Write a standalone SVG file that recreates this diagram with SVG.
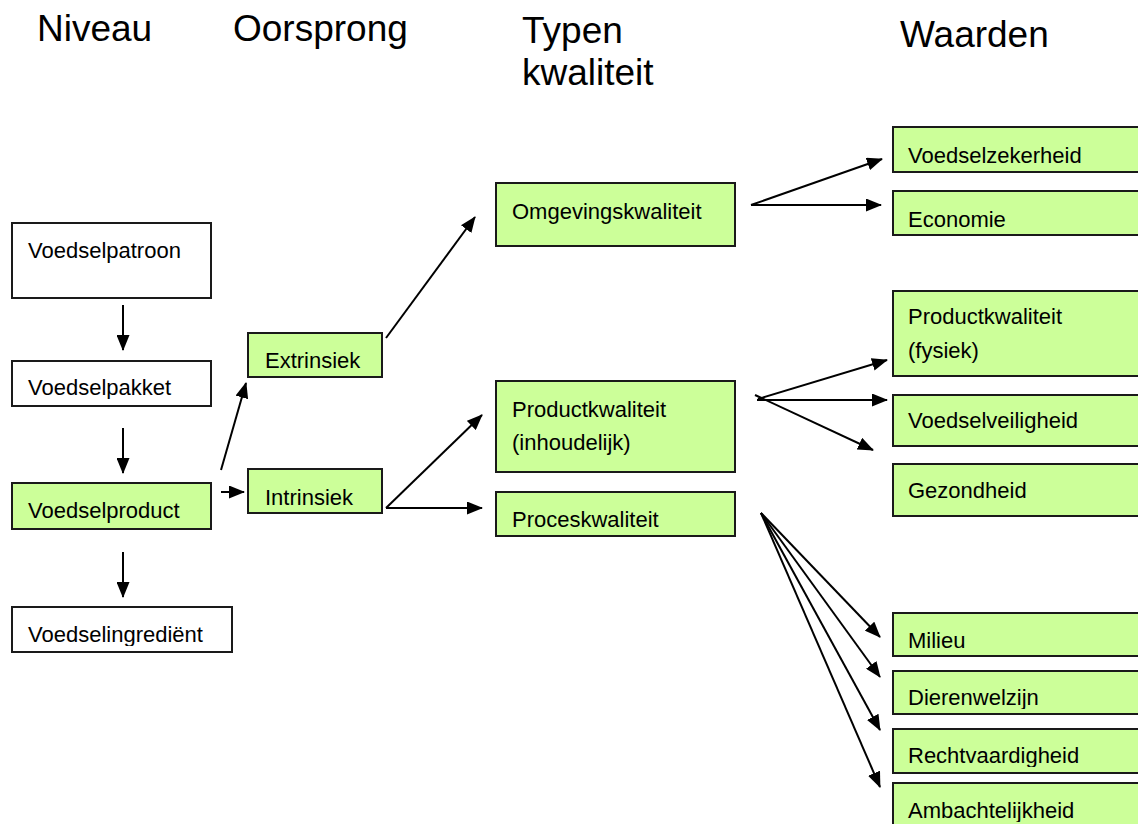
<svg xmlns="http://www.w3.org/2000/svg" width="1138" height="824" viewBox="0 0 1138 824">
<style>
.hdr{font-family:"Liberation Sans",Arial,sans-serif;font-size:37px;fill:#000}
.box{stroke:#1a1a1a;stroke-width:2}
.g{fill:#ccff99}
.w{fill:#ffffff}
.t{font-family:"Liberation Sans",Arial,sans-serif;font-size:22px;fill:#000}
.c line{stroke:#000;stroke-width:2;marker-end:url(#ah)}
</style>
<defs>
<marker id="ah" markerUnits="userSpaceOnUse" markerWidth="16" markerHeight="13" refX="15" refY="6.5" orient="auto">
<path d="M0,0 L16,6.5 L0,13 z" fill="#000"/>
</marker>
<clipPath id="cpPakket"><rect x="12" y="361" width="199" height="38"/></clipPath>
<clipPath id="cpIngr"><rect x="12" y="607" width="220" height="39"/></clipPath>
<clipPath id="cpDier"><rect x="893" y="671" width="260" height="38"/></clipPath>
<clipPath id="cpRecht"><rect x="893" y="729" width="260" height="38"/></clipPath>
<clipPath id="cpAmb"><rect x="893" y="783" width="260" height="39"/></clipPath>
</defs>
<rect width="1138" height="824" fill="#fff"/>
<g id="headers">
<text class="hdr" x="37" y="41">Niveau</text>
<text class="hdr" x="233" y="41">Oorsprong</text>
<text class="hdr" x="522" y="43">Typen</text>
<text class="hdr" x="522" y="85">kwaliteit</text>
<text class="hdr" x="900" y="47">Waarden</text>
</g>
<g id="voedselpatroon"><rect class="box w" x="12" y="223" width="199" height="75"/><text class="t" x="28" y="258">Voedselpatroon</text></g>
<g id="voedselpakket"><rect class="box w" x="12" y="361" width="199" height="45"/><text class="t" x="28" y="395" clip-path="url(#cpPakket)">Voedselpakket</text></g>
<g id="voedselproduct"><rect class="box g" x="12" y="483" width="199" height="46"/><text class="t" x="28" y="518">Voedselproduct</text></g>
<g id="voedselingredient"><rect class="box w" x="12" y="607" width="220" height="45"/><text class="t" x="28" y="642" clip-path="url(#cpIngr)">Voedselingrediënt</text></g>
<g id="extrinsiek"><rect class="box g" x="248" y="333" width="134" height="44"/><text class="t" x="265" y="368">Extrinsiek</text></g>
<g id="intrinsiek"><rect class="box g" x="248" y="469" width="134" height="44"/><text class="t" x="265" y="505">Intrinsiek</text></g>
<g id="omgevingskwaliteit"><rect class="box g" x="496" y="183" width="239" height="63"/><text class="t" x="512" y="219">Omgevingskwaliteit</text></g>
<g id="productkwaliteit-inh"><rect class="box g" x="496" y="381" width="239" height="91"/><text class="t" x="512" y="417">Productkwaliteit</text><text class="t" x="512" y="450">(inhoudelijk)</text></g>
<g id="proceskwaliteit"><rect class="box g" x="496" y="492" width="239" height="44"/><text class="t" x="512" y="527">Proceskwaliteit</text></g>
<g id="voedselzekerheid"><rect class="box g" x="893" y="127" width="260" height="45"/><text class="t" x="908" y="163">Voedselzekerheid</text></g>
<g id="economie"><rect class="box g" x="893" y="191" width="260" height="44"/><text class="t" x="908" y="227">Economie</text></g>
<g id="productkwaliteit-fys"><rect class="box g" x="893" y="291" width="260" height="85"/><text class="t" x="908" y="324">Productkwaliteit</text><text class="t" x="908" y="358">(fysiek)</text></g>
<g id="voedselveiligheid"><rect class="box g" x="893" y="395" width="260" height="51"/><text class="t" x="908" y="428">Voedselveiligheid</text></g>
<g id="gezondheid"><rect class="box g" x="893" y="464" width="260" height="52"/><text class="t" x="908" y="498">Gezondheid</text></g>
<g id="milieu"><rect class="box g" x="893" y="613" width="260" height="43"/><text class="t" x="908" y="648">Milieu</text></g>
<g id="dierenwelzijn"><rect class="box g" x="893" y="671" width="260" height="43"/><text class="t" x="908" y="705" clip-path="url(#cpDier)">Dierenwelzijn</text></g>
<g id="rechtvaardigheid"><rect class="box g" x="893" y="729" width="260" height="44"/><text class="t" x="908" y="763" clip-path="url(#cpRecht)">Rechtvaardigheid</text></g>
<g id="ambachtelijkheid"><rect class="box g" x="893" y="783" width="260" height="60"/><text class="t" x="908" y="818" clip-path="url(#cpAmb)">Ambachtelijkheid</text></g>
<g id="connectors" class="c">
<line x1="123" y1="305" x2="123" y2="350"/>
<line x1="123" y1="428" x2="123" y2="473"/>
<line x1="123" y1="552" x2="123" y2="597"/>
<line x1="221" y1="470" x2="246" y2="383"/>
<line x1="221" y1="492" x2="244" y2="492"/>
<line x1="386" y1="338" x2="475" y2="217"/>
<line x1="386" y1="508" x2="482" y2="415"/>
<line x1="386" y1="508" x2="482" y2="508"/>
<line x1="751" y1="205" x2="882" y2="159"/>
<line x1="751" y1="205" x2="881" y2="205"/>
<line x1="758" y1="399" x2="887" y2="360"/>
<line x1="757" y1="400" x2="887" y2="400"/>
<line x1="755" y1="395" x2="873" y2="450"/>
<line x1="761" y1="513" x2="880" y2="637"/>
<line x1="761" y1="513" x2="880" y2="677"/>
<line x1="761" y1="513" x2="880" y2="730"/>
<line x1="761" y1="513" x2="880" y2="787"/>
</g>
</svg>
